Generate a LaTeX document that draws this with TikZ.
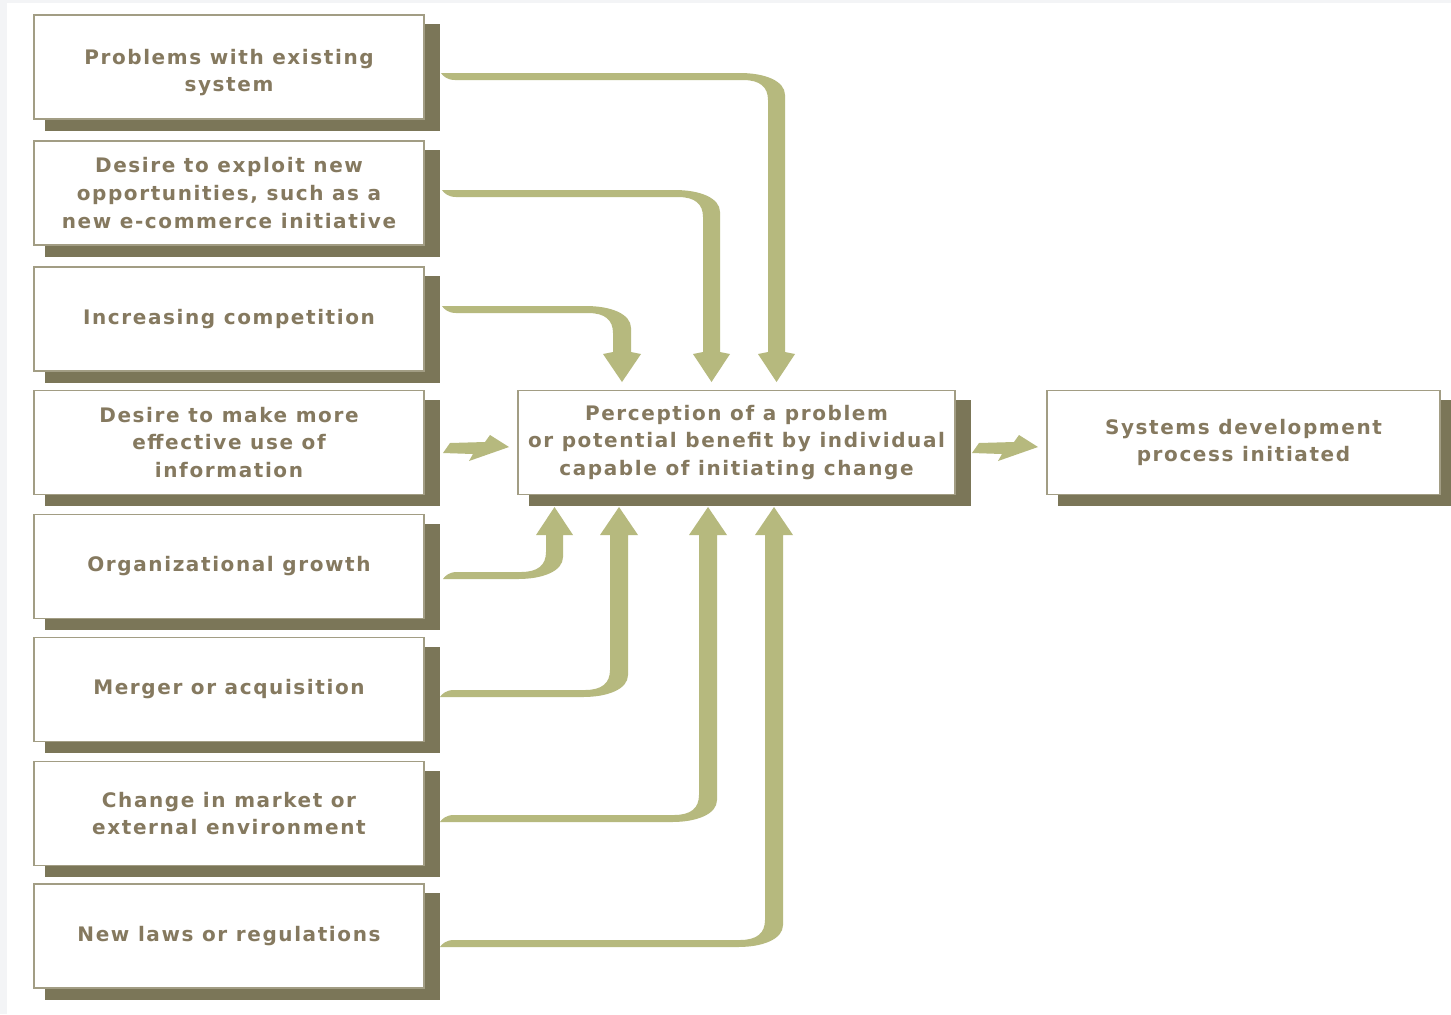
\documentclass[tikz,border=0pt]{standalone}
\usepackage{fontspec}
\setmainfont{DejaVu Sans}[LetterSpace=8]
\usetikzlibrary{backgrounds}
\definecolor{shadowc}{HTML}{7B7658}
\definecolor{arrowc}{HTML}{B6B97E}
\definecolor{borderc}{HTML}{A29D84}
\definecolor{textc}{HTML}{85795F}
\definecolor{edgec}{HTML}{F3F4F6}
% down ribbon: x0, yt, xa, xb, ytip
\newcommand\rbdown[5]{%
 \fill[arrowc] (#1,#2) -- ({#4-45},#2) .. controls ({#4-20},#2) and (#4,{#2+8}) .. (#4,{#2+22})
  -- (#4,{#5-30}) -- ({#4+10},{#5-28}) -- ({(#3+#4)/2},#5) -- ({#3-10},{#5-28}) -- (#3,{#5-30})
  -- (#3,{#2+27}) .. controls (#3,{#2+14}) and ({#3-8},{#2+7}) .. ({#3-25},{#2+7})
  -- ({#1+14},{#2+7}) .. controls ({#1+6},{#2+7}) and ({#1+2},{#2+3}) .. (#1,#2) -- cycle;}
% up ribbon: x0, yb, xa, xb, ytip
\newcommand\rbup[5]{%
 \fill[arrowc] (#1,#2) -- ({#4-45},#2) .. controls ({#4-20},#2) and (#4,{#2-8}) .. (#4,{#2-22})
  -- (#4,{#5+28}) -- ({#4+10},{#5+28}) -- ({(#3+#4)/2},#5) -- ({#3-10},{#5+28}) -- (#3,{#5+28})
  -- (#3,{#2-27}) .. controls (#3,{#2-14}) and ({#3-8},{#2-7}) .. ({#3-25},{#2-7})
  -- ({#1+14},{#2-7}) .. controls ({#1+6},{#2-7}) and ({#1+2},{#2-3}) .. (#1,#2) -- cycle;}
% right arrow: tail x, tail y
\newcommand\rbright[2]{%
 \fill[arrowc] (#1,#2) -- ++(7,-10) -- ++(35,-1) -- ++(5,-7) -- ++(19,12) -- ++(-40,14) -- ++(4,-7) -- cycle;}
\begin{document}
\begin{tikzpicture}[x=0.5pt,y=-0.5pt,
  box/.style={draw=borderc, line width=0.9pt, fill=white, minimum width=195pt, minimum height=52pt,
    inner sep=0pt, align=center, text=textc, font=\fontsize{10}{13.8}\selectfont\bfseries},
  shadow/.style={fill=shadowc}]
\useasboundingbox (0,0) rectangle (1451,1014);
% boxes
\node[box] (b1) at (229,67) {\rule{0pt}{4pt}\\[-4.5pt]Problems with existing\\system};
\node[box] (b2) at (229,193) {Desire to exploit new\\opportunities, such as a\\new e-commerce initiative};
\node[box] (b3) at (229,319) {Increasing competition};
\node[box] (b4) at (229,442.5) {Desire to make more\\effective use of\\information};
\node[box] (b5) at (229,566.5) {Organizational growth};
\node[box] (b6) at (229,689.5) {Merger or acquisition};
\node[box] (b7) at (229,813.5) {Change in market or\\external environment};
\node[box] (b8) at (229,936) {New laws or regulations};
\node[box, minimum width=218.5pt] (mid) at (736.5,442.5) {Perception of a problem\\or potential benefit by individual\\capable of initiating change};
\node[box, minimum width=196.5pt] (res) at (1243.5,442.5) {Systems development\\process initiated};
\begin{scope}[on background layer]
 \fill[white] (0,0) rectangle (1451,1014);
 \fill[edgec] (0,0) rectangle (1451,3);
 \fill[edgec] (0,0) rectangle (7,1014);
 \foreach \n in {b1,b2,b3,b4,b5,b6,b7,b8,mid}
   \fill[shadow] ([xshift=6pt,yshift=-5.5pt]\n.south west) rectangle ([xshift=7.5pt,yshift=-5pt]\n.north east);
 \fill[shadow] ([xshift=6pt,yshift=-5.5pt]res.south west) rectangle ([xshift=5.5pt,yshift=-5pt]res.north east);
\end{scope}
% ribbons into the top of the perception box
\rbdown{441}{73}{768}{785}{382}
\rbdown{442}{190}{703}{720}{382}
\rbdown{442}{306}{613}{631}{382}
% ribbons into the bottom
\rbup{443}{579}{546}{563}{507}
\rbup{440}{697}{610}{628}{507}
\rbup{440}{822}{699}{717}{507}
\rbup{440}{947}{765}{783}{507}
% straight arrows
\rbright{443}{453}
\rbright{972}{453}
\end{tikzpicture}
\end{document}
